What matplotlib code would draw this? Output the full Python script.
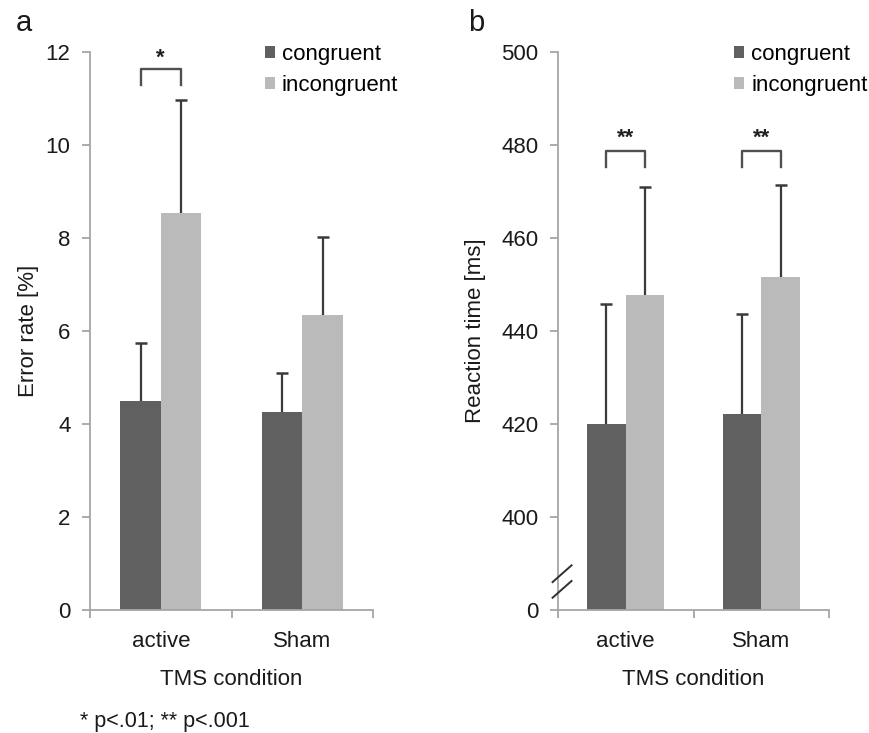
import numpy as np
import matplotlib
matplotlib.use("Agg")
import matplotlib.pyplot as plt

plt.rcParams['font.family'] = ['Liberation Sans', 'DejaVu Sans']

# Data
conditions = ["active", "Sham"]
series = ["congruent", "incongruent"]

err_mean = {"congruent": [4.49, 4.25], "incongruent": [8.53, 6.34]}
err_sd = {"congruent": [1.26, 0.85], "incongruent": [2.44, 1.69]}

rt_mean = {"congruent": [419.9, 422.2], "incongruent": [447.7, 451.7]}
rt_sd = {"congruent": [25.9, 21.5], "incongruent": [23.3, 19.8]}

rt_floor = 380  # axis break: 380 on the scale is shown as "0"
rt_ticks = [380, 400, 420, 440, 460, 480, 500]
rt_ticklabels = ["0", "400", "420", "440", "460", "480", "500"]

colors = {"congruent": "#606060", "incongruent": "#bababa"}
axis_col = "#a6a6a6"
err_col = "#3a3a3a"
txt_col = "#1a1a1a"
fs = 16

fig = plt.figure(figsize=(8.69, 7.33), dpi=100)
ax1 = fig.add_axes([0.1036, 0.1678, 0.3257, 0.7613])
ax2 = fig.add_axes([0.6421, 0.1678, 0.3119, 0.7613])

x = np.arange(len(conditions))
w = 0.2857


def style_axes(ax):
    for s in ["top", "right"]:
        ax.spines[s].set_visible(False)
    ax.spines["left"].set_color(axis_col)
    ax.spines["bottom"].set_color(axis_col)
    ax.spines["left"].set_linewidth(1.3)
    ax.spines["bottom"].set_linewidth(1.3)
    ax.set_xlim(-0.5, 1.5)
    ax.set_xticks([-0.5, 0.5, 1.5])
    ax.set_xticklabels([])
    ax.set_xticks(x, minor=True)
    ax.set_xticklabels(conditions, minor=True, fontsize=fs, color=txt_col)
    ax.tick_params(axis="x", which="major", length=6, color=axis_col, width=1.3)
    ax.tick_params(axis="x", which="minor", length=0, pad=15)
    ax.tick_params(axis="y", length=6, color=axis_col, width=1.3, labelsize=fs,
                   labelcolor=txt_col, pad=8)
    ax.set_xlabel("TMS condition", fontsize=fs, labelpad=12, color=txt_col)


def draw_bars(ax, means, sds, base=0):
    for i, s in enumerate(series):
        pos = x + (i - 0.5) * w
        h = np.array(means[s]) - base
        ax.bar(pos, h, w, bottom=base, color=colors[s], label=s, zorder=2)
        tops = np.array(means[s]) + np.array(sds[s])
        ax.vlines(pos, means[s], tops, color=err_col, lw=1.6, zorder=3)
        ax.plot(pos, tops, ls="none", marker="_", ms=8, mew=1.8, color=err_col, zorder=3)


def bracket(ax, xc, y_top, y_bot, label, y_text):
    xl, xr = xc - w / 2, xc + w / 2
    ax.plot([xl, xl, xr, xr], [y_bot, y_top, y_top, y_bot], color="#505050",
            lw=1.7, zorder=3, clip_on=False)
    ax.text(xc, y_text, label, ha="center", va="center", fontsize=fs, color="#202020",
            fontweight="bold")


leg_kw = dict(loc="upper left", frameon=False, fontsize=fs, handlelength=0.45,
              handleheight=0.45, handletextpad=0.3, labelspacing=0.45, borderpad=0)

# panel a
draw_bars(ax1, err_mean, err_sd)
style_axes(ax1)
ax1.set_ylim(0, 12)
ax1.set_yticks(np.arange(0, 13, 2))
ax1.set_ylabel("Error rate [%]", fontsize=fs, labelpad=5, color=txt_col)
bracket(ax1, x[0], 11.63, 11.29, "*", 11.86)
ax1.legend(bbox_to_anchor=(0.58, 1.035), **leg_kw)

# panel b
draw_bars(ax2, rt_mean, rt_sd, base=rt_floor)
style_axes(ax2)
ax2.set_ylim(rt_floor, 500)
ax2.set_yticks(rt_ticks)
ax2.set_yticklabels(rt_ticklabels)
ax2.set_ylabel("Reaction time [ms]", fontsize=fs, labelpad=11, color=txt_col)
for xc in x:
    bracket(ax2, xc, 478.7, 475.3, "**", 481.5)
ax2.legend(bbox_to_anchor=(0.61, 1.035), **leg_kw)

# axis break marks
for dy in [0.0, 0.028]:
    ax2.plot([-0.02, 0.05], [0.05 - dy, 0.08 - dy], transform=ax2.transAxes,
             color="#303030", lw=1.4, clip_on=False, zorder=4)

fig.text(16 / 869, 1 - 23 / 733, "a", fontsize=21, va="center", ha="left", color=txt_col)
fig.text(468 / 869, 1 - 23 / 733, "b", fontsize=21, va="center", ha="left", color=txt_col)
fig.text(80 / 869, 1 - 721 / 733, "* p<.01; ** p<.001", fontsize=15.5, va="center",
         ha="left", color=txt_col)

fig.savefig("out.png", dpi=100)
